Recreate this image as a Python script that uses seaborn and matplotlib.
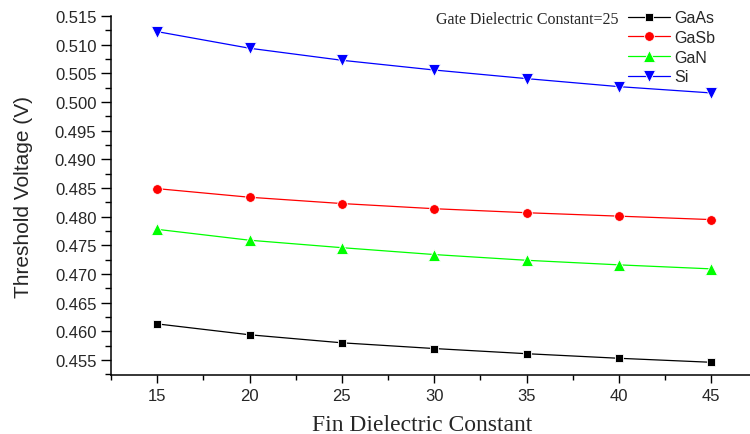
import pandas as pd
import matplotlib
matplotlib.use("Agg")
import matplotlib.pyplot as plt
from matplotlib.ticker import MultipleLocator, FormatStrFormatter
import seaborn as sns

# data
fin_k = [15, 20, 25, 30, 35, 40, 45]
gaas = [0.4613, 0.4594, 0.4580, 0.4570, 0.4561, 0.4553, 0.4546]
gasb = [0.4849, 0.4834, 0.4823, 0.4814, 0.4807, 0.4801, 0.4795]
gan = [0.4778, 0.4759, 0.4746, 0.4734, 0.4724, 0.4716, 0.4709]
si = [0.5123, 0.5094, 0.5073, 0.5056, 0.5041, 0.5027, 0.5016]

materials = ["GaAs", "GaSb", "GaN", "Si"]
colors = {"GaAs": "black", "GaSb": "#ff0000", "GaN": "#00ff00", "Si": "#0000ff"}
markers = {"GaAs": "s", "GaSb": "o", "GaN": "^", "Si": "v"}
msizes = {"GaAs": 6, "GaSb": 7, "GaN": 8.5, "Si": 8.5}

df = pd.DataFrame({
    "Fin": fin_k * 4,
    "Vth": gaas + gasb + gan + si,
    "Material": [m for m in materials for _ in fin_k],
})

sns.set_style("ticks")
plt.rcParams["font.family"] = ["Liberation Sans", "DejaVu Sans"]

fig = plt.figure(figsize=(7.5, 4.35), dpi=100)
ax = fig.add_axes([0.148, 0.1356, 0.852, 0.825])

for m in materials:
    sns.lineplot(
        data=df[df["Material"] == m], x="Fin", y="Vth",
        color=colors[m], marker=markers[m], markersize=msizes[m],
        markeredgecolor="white", markeredgewidth=0.6,
        linewidth=0.9, label=m, ax=ax,
    )

ax.set_xlim(12.5, 47.1)
ax.set_ylim(0.45238, 0.515)
ax.xaxis.set_major_locator(MultipleLocator(5))
ax.xaxis.set_minor_locator(MultipleLocator(2.5))
ax.yaxis.set_major_locator(MultipleLocator(0.005))
ax.yaxis.set_minor_locator(MultipleLocator(0.0025))
ax.yaxis.set_major_formatter(FormatStrFormatter("%.3f"))

ax.tick_params(axis="y", which="major", length=7.5, width=1, pad=3, labelsize=12, color="black")
ax.tick_params(axis="y", which="minor", length=4, width=1, color="black")
ax.tick_params(axis="x", which="major", length=6, width=1, pad=3, labelsize=12, color="black")
ax.tick_params(axis="x", which="minor", length=3.5, width=1, color="black")

for s in ["top", "right"]:
    ax.spines[s].set_visible(False)
for s in ["left", "bottom"]:
    ax.spines[s].set_color("black")
    ax.spines[s].set_linewidth(1.1)

ax.set_ylabel("Threshold Voltage (V)", fontsize=15)
ax.yaxis.set_label_coords(-0.122, 0.5)
ax.set_xlabel("Fin Dielectric Constant", fontsize=17, family="Liberation Serif")
ax.xaxis.set_label_coords(0.4875, -0.108)

leg = ax.legend(
    loc="upper left", bbox_to_anchor=(0.792, 1.048), frameon=False,
    fontsize=11.5, handlelength=2.6, handletextpad=0.3, labelspacing=0.3,
    borderpad=0.2, numpoints=1,
)

fig.text(0.824, 0.953, "Gate Dielectric Constant=25", ha="right", va="center",
         fontsize=11.5, family="Liberation Serif")

fig.savefig("out.png", dpi=100)
